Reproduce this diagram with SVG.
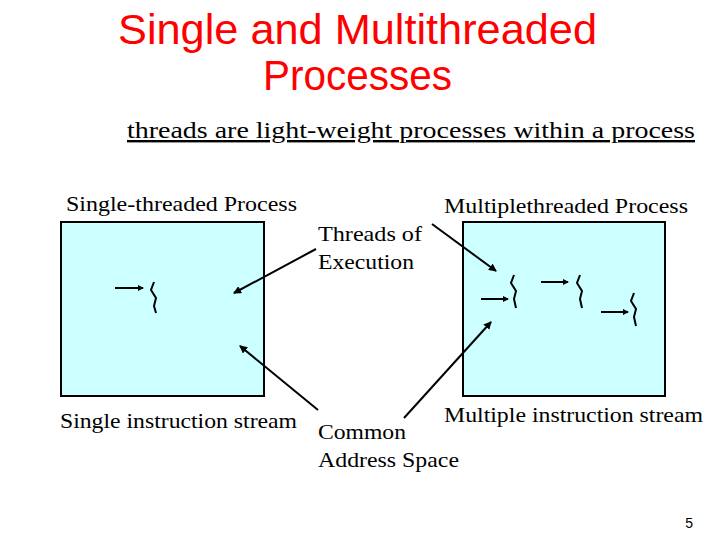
<svg xmlns="http://www.w3.org/2000/svg" width="720" height="540" viewBox="0 0 720 540">
<defs>
<marker id="ah" markerWidth="8" markerHeight="8" refX="7" refY="4" orient="auto" markerUnits="userSpaceOnUse"><path d="M0,0 L8,4 L0,8 z" fill="#000"/></marker>
<marker id="as" markerWidth="6" markerHeight="6" refX="5" refY="3" orient="auto" markerUnits="userSpaceOnUse"><path d="M0,0 L6,3 L0,6 z" fill="#000"/></marker>
<style>
.box{fill:#ccffff;stroke:#000;stroke-width:2}
.t{font-family:"Liberation Serif",serif;font-size:22px;fill:#000}
.c{stroke:#000;stroke-width:2;fill:none}
.sq{stroke:#000;stroke-width:2;fill:none}
</style>
</defs>
<text x="118" y="44" textLength="479" lengthAdjust="spacingAndGlyphs" font-family="Liberation Sans,sans-serif" font-size="43" fill="#ff0000">Single and Multithreaded</text>
<text x="263" y="90" textLength="189" lengthAdjust="spacingAndGlyphs" font-family="Liberation Sans,sans-serif" font-size="43" fill="#ff0000">Processes</text>
<text x="127" y="138" class="t" style="font-size:24px" textLength="568" lengthAdjust="spacingAndGlyphs" text-decoration="underline">threads are light-weight processes within a process</text>
<g id="single">
<rect class="box" x="61" y="222" width="203" height="174"/>
<text x="66" y="211" class="t" textLength="231" lengthAdjust="spacingAndGlyphs">Single-threaded Process</text>
<text x="60" y="428" class="t" textLength="237" lengthAdjust="spacingAndGlyphs">Single instruction stream</text>
<path class="sq" d="M154,282 L151,290 L156,298 L154,306 L156,313"/>
</g>
<g id="multi">
<rect class="box" x="463" y="222" width="202" height="174"/>
<text x="444" y="213" class="t" textLength="244" lengthAdjust="spacingAndGlyphs">Multiplethreaded Process</text>
<text x="444" y="422" class="t" textLength="259" lengthAdjust="spacingAndGlyphs">Multiple instruction stream</text>
<path class="sq" d="M514,275 L511,283 L516,291 L514,299 L516,308"/>
<path class="sq" d="M580,275 L577,283 L582,291 L580,299 L582,308"/>
<path class="sq" d="M634,293 L631,301 L636,309 L634,317 L636,326"/>
</g>
<g id="labels">
<text x="318" y="241" class="t" textLength="104" lengthAdjust="spacingAndGlyphs">Threads of</text>
<text x="318" y="269" class="t" textLength="96" lengthAdjust="spacingAndGlyphs">Execution</text>
<text x="318" y="439" class="t" textLength="88" lengthAdjust="spacingAndGlyphs">Common</text>
<text x="318" y="467" class="t" textLength="141" lengthAdjust="spacingAndGlyphs">Address Space</text>
<text x="693" y="528" text-anchor="end" font-family="Liberation Sans,sans-serif" font-size="14">5</text>
</g>
<g id="connectors">
<line class="c" x1="115" y1="288" x2="143" y2="288" marker-end="url(#as)"/>
<line class="c" x1="481" y1="299" x2="508" y2="299" marker-end="url(#as)"/>
<line class="c" x1="541" y1="282" x2="568" y2="282" marker-end="url(#as)"/>
<line class="c" x1="601" y1="312" x2="628" y2="312" marker-end="url(#as)"/>
<line class="c" x1="316" y1="249" x2="234" y2="293" marker-end="url(#ah)"/>
<line class="c" x1="432" y1="224" x2="496" y2="271" marker-end="url(#ah)"/>
<line class="c" x1="318" y1="410" x2="240" y2="346" marker-end="url(#ah)"/>
<line class="c" x1="404" y1="418" x2="491" y2="322" marker-end="url(#ah)"/>
</g>
</svg>
